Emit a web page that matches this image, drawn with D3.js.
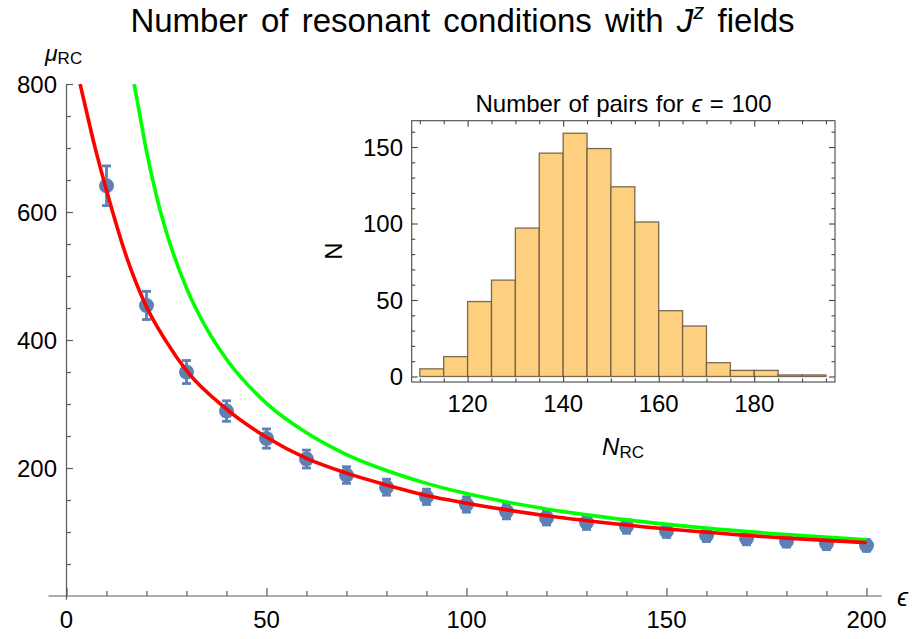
<!DOCTYPE html>
<html>
<head>
<meta charset="utf-8">
<script src="https://cdn.jsdelivr.net/npm/d3@7"></script>
<style>
  html, body { margin: 0; padding: 0; background: #fff; }
  svg { display: block; font-family: "Liberation Sans", Arial, sans-serif; }
</style>
</head>
<body>
<svg id="chart" width="917" height="639"></svg>
<script>
// Mean number of resonant conditions vs. epsilon, with error bars
const epsValues = [10, 20, 30, 40, 50, 60, 70, 80, 90, 100, 110, 120, 130, 140, 150, 160, 170, 180, 190, 200];
const muRC      = [641, 454, 350, 289, 246, 214, 189, 170, 155, 143, 132, 122, 115, 108.5, 101.5, 95, 90, 86, 82, 79];
const muErr     = [31, 22, 18, 16, 15, 14, 13, 12.5, 12, 12, 11.5, 11, 11, 10.5, 10, 10, 10, 9.5, 9.5, 9];

// Red reference curve (epsilon, value)
const redEps  = [3.4, 5, 7, 10, 15, 20, 25, 30, 40, 50, 60, 70, 80, 90, 100, 120, 140, 160, 180, 200];
const redVals = [800, 757, 704, 634, 530, 452, 397, 352, 292, 248, 215, 192, 173.5, 157, 145, 125.5, 111, 99.5, 90.5, 83.5];

// Green reference curve (epsilon, value)
const greenEps  = [16.9, 18, 20, 22.5, 25, 30, 35, 40, 50, 60, 70, 80, 90, 100, 120, 140, 160, 180, 200];
const greenVals = [800, 763, 695, 625, 568, 481, 418, 370, 301, 255, 221, 196, 176, 160, 136, 119, 106, 96, 88];

// Histogram of N_RC at epsilon = 100 (bins of width 5)
const binStarts = [110, 115, 120, 125, 130, 135, 140, 145, 150, 155, 160, 165, 170, 175, 180, 185, 190];
const binCounts = [5, 13, 49, 63, 97, 146, 159, 149, 124, 101, 43, 33, 9, 4, 4, 1, 1];
const binWidth = 5;

// Tick values
const mainXMajor = [0, 50, 100, 150, 200];
const mainYMajor = [200, 400, 600, 800];
const histXMajor = [120, 140, 160, 180];
const histYMajor = [0, 50, 100, 150];

const svg = d3.select("#chart");
const blue = "#5E81B5";
const axisGray = "#5a5a5a";

// ---------- main plot ----------
const x = d3.scaleLinear().domain([0, 200]).range([66.5, 866.5]);
const y = d3.scaleLinear().domain([0, 800]).range([596, 84]);

// title
const title = svg.append("text")
  .attr("x", 462.5).attr("y", 32)
  .attr("text-anchor", "middle")
  .attr("font-size", 33)
  .attr("word-spacing", 4)
  .attr("fill", "#000");
title.append("tspan").text("Number of resonant conditions with ");
title.append("tspan").attr("font-style", "italic").text("J");
title.append("tspan").attr("font-style", "italic").attr("font-size", 22).attr("dy", -13).text("z");
title.append("tspan").attr("dy", 13).text(" fields");

// axes
const gAxes = svg.append("g");
const xMinor = d3.range(0, 201, 10).filter(v => v % 50 !== 0);
const yMinor = d3.range(50, 801, 50).filter(v => v % 200 !== 0);

// x axis: ticks pointing up into the plot
gAxes.append("g").attr("transform", `translate(0,${y(0)})`)
  .call(d3.axisTop(x).tickValues(xMinor).tickSize(5).tickSizeOuter(0).tickFormat(""))
  .call(g => g.select(".domain").remove());
gAxes.append("g").attr("transform", `translate(0,${y(0)})`)
  .call(d3.axisTop(x).tickValues(mainXMajor).tickSize(8).tickSizeOuter(0).tickFormat(""))
  .call(g => g.select(".domain").remove());
gAxes.append("line")
  .attr("x1", x(-4.5)).attr("x2", x(203.8))
  .attr("y1", y(0)).attr("y2", y(0));

// y axis: ticks pointing right into the plot
gAxes.append("g").attr("transform", `translate(${x(0)},0)`)
  .call(d3.axisRight(y).tickValues(yMinor).tickSize(4.5).tickSizeOuter(0).tickFormat(""))
  .call(g => g.select(".domain").remove());
gAxes.append("g").attr("transform", `translate(${x(0)},0)`)
  .call(d3.axisRight(y).tickValues(mainYMajor).tickSize(6.5).tickSizeOuter(0).tickFormat(""))
  .call(g => g.select(".domain").remove());
gAxes.append("line")
  .attr("x1", x(0)).attr("x2", x(0))
  .attr("y1", y(800)).attr("y2", y(-6));

gAxes.selectAll("line").attr("stroke", axisGray).attr("stroke-width", 1.2);

// tick labels
svg.append("g").selectAll("text").data(mainXMajor).join("text")
  .attr("x", d => x(d)).attr("y", 628)
  .attr("text-anchor", "middle").attr("font-size", 24)
  .text(d => d);
svg.append("g").selectAll("text").data(mainYMajor).join("text")
  .attr("x", 57).attr("y", d => y(d) + 8.6)
  .attr("text-anchor", "end").attr("font-size", 24)
  .text(d => d);

// axis labels
const yLab = svg.append("text").attr("x", 45).attr("y", 61);
yLab.append("tspan").attr("font-style", "italic").attr("font-size", 23).text("μ");
yLab.append("tspan").attr("font-size", 17).attr("dy", 3).text("RC");
svg.append("text").attr("x", 897).attr("y", 606)
  .attr("font-style", "italic").attr("font-size", 25).text("ϵ");

// clip for data region
svg.append("clipPath").attr("id", "plotClip")
  .append("rect").attr("x", 0).attr("y", y(800)).attr("width", 917).attr("height", 560);

const plot = svg.append("g").attr("clip-path", "url(#plotClip)");

// error bars and points
const pts = epsValues.map((e, i) => ({ e, m: muRC[i], s: muErr[i] }));
const eb = plot.append("g").attr("stroke", blue).attr("stroke-width", 2.8);
eb.selectAll("line.v").data(pts).join("line").attr("class", "v")
  .attr("x1", d => x(d.e)).attr("x2", d => x(d.e))
  .attr("y1", d => y(d.m + d.s)).attr("y2", d => y(d.m - d.s));
eb.selectAll("line.t").data(pts).join("line").attr("class", "t")
  .attr("x1", d => x(d.e) - 4.5).attr("x2", d => x(d.e) + 4.5)
  .attr("y1", d => y(d.m + d.s)).attr("y2", d => y(d.m + d.s));
eb.selectAll("line.b").data(pts).join("line").attr("class", "b")
  .attr("x1", d => x(d.e) - 4.5).attr("x2", d => x(d.e) + 4.5)
  .attr("y1", d => y(d.m - d.s)).attr("y2", d => y(d.m - d.s));
plot.append("g").selectAll("circle").data(pts).join("circle")
  .attr("cx", d => x(d.e)).attr("cy", d => y(d.m)).attr("r", 7.5)
  .attr("fill", blue);

// curves
const line = d3.line().x(d => x(d[0])).y(d => y(d[1])).curve(d3.curveMonotoneX);
plot.append("path")
  .datum(greenEps.map((e, i) => [e, greenVals[i]]))
  .attr("d", line).attr("fill", "none")
  .attr("stroke", "#00ff00").attr("stroke-width", 3.6);
plot.append("path")
  .datum(redEps.map((e, i) => [e, redVals[i]]))
  .attr("d", line).attr("fill", "none")
  .attr("stroke", "#ff0000").attr("stroke-width", 3.6);

// ---------- inset histogram ----------
const hx = d3.scaleLinear().domain([108.3, 196.9]).range([411.7, 835]);
const hy = d3.scaleLinear().domain([-3.6, 167.2]).range([382, 120.7]);
const inset = svg.append("g");

svg.append("text").attr("x", 623.5).attr("y", 111.5)
  .attr("text-anchor", "middle").attr("font-size", 24).attr("word-spacing", 1)
  .html('Number of pairs for <tspan font-style="italic">ϵ</tspan> = 100');

const bins = binStarts.map((b, i) => ({ b, c: binCounts[i] }));
inset.append("g").selectAll("rect").data(bins).join("rect")
  .attr("x", d => hx(d.b)).attr("width", d => hx(d.b + binWidth) - hx(d.b))
  .attr("y", d => hy(d.c)).attr("height", d => hy(0) - hy(d.c))
  .attr("fill", "#fdcf7f")
  .attr("stroke", "#6e5c44").attr("stroke-opacity", 0.9).attr("stroke-width", 1.3);

// frame with inward ticks on all sides
const frameG = inset.append("g");
const hxMinor = d3.range(110, 196, 5).filter(v => histXMajor.indexOf(v) < 0);
const hyMinor = d3.range(10, 161, 10).filter(v => histYMajor.indexOf(v) < 0);
const frameBottom = hy.range()[0], frameTop = hy.range()[1];
const frameLeft = hx.range()[0], frameRight = hx.range()[1];

function ticks(axisGen, scale, vals, size, tx, ty) {
  frameG.append("g").attr("transform", `translate(${tx},${ty})`)
    .call(axisGen(scale).tickValues(vals).tickSize(size).tickSizeOuter(0).tickFormat(""))
    .call(g => g.select(".domain").remove());
}
ticks(d3.axisTop, hx, hxMinor, 3.5, 0, frameBottom);
ticks(d3.axisTop, hx, histXMajor, 6, 0, frameBottom);
ticks(d3.axisBottom, hx, hxMinor, 3.5, 0, frameTop);
ticks(d3.axisBottom, hx, histXMajor, 6, 0, frameTop);
ticks(d3.axisRight, hy, hyMinor, 3.5, frameLeft, 0);
ticks(d3.axisRight, hy, histYMajor, 6, frameLeft, 0);
ticks(d3.axisLeft, hy, hyMinor, 3.5, frameRight, 0);
ticks(d3.axisLeft, hy, histYMajor, 6, frameRight, 0);
frameG.selectAll("line").attr("stroke", "#444").attr("stroke-width", 1.1);
frameG.append("rect")
  .attr("x", frameLeft).attr("y", frameTop)
  .attr("width", frameRight - frameLeft).attr("height", frameBottom - frameTop)
  .attr("fill", "none").attr("stroke", "#4a4a4a").attr("stroke-width", 1.1);

// inset tick labels
inset.append("g").selectAll("text").data(histXMajor).join("text")
  .attr("x", d => hx(d)).attr("y", 412)
  .attr("text-anchor", "middle").attr("font-size", 24).text(d => d);
inset.append("g").selectAll("text").data(histYMajor).join("text")
  .attr("x", 403).attr("y", d => hy(d) + 8.6)
  .attr("text-anchor", "end").attr("font-size", 24).text(d => d);

// inset axis labels
svg.append("text")
  .attr("transform", "translate(341.5,251) rotate(-90)")
  .attr("text-anchor", "middle").attr("font-size", 24).text("N");
const nLab = svg.append("text").attr("x", 623).attr("y", 455).attr("text-anchor", "middle");
nLab.append("tspan").attr("font-style", "italic").attr("font-size", 24).text("N");
nLab.append("tspan").attr("font-size", 17).attr("dy", 3).text("RC");
</script>
</body>
</html>
